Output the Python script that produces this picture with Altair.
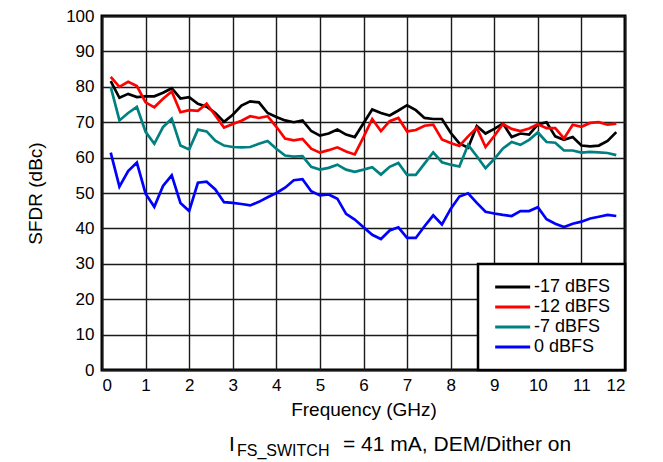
import altair as alt
import pandas as pd

freq = [0.2, 0.4, 0.6, 0.8, 1.0, 1.2, 1.4, 1.6, 1.8, 2.0, 2.2, 2.4, 2.6, 2.8, 3.0,
        3.2, 3.4, 3.6, 3.8, 4.0, 4.2, 4.4, 4.6, 4.8, 5.0, 5.2, 5.4, 5.6, 5.8, 6.0,
        6.2, 6.4, 6.6, 6.8, 7.0, 7.2, 7.4, 7.6, 7.8, 8.0, 8.2, 8.4, 8.6, 8.8, 9.0,
        9.2, 9.4, 9.6, 9.8, 10.0, 10.2, 10.4, 10.6, 10.8, 11.0, 11.2, 11.4, 11.6, 11.8]

sfdr_m17 = [81.6, 76.9, 78.0, 77.1, 77.3, 77.3, 78.3, 79.6, 76.7, 77.1, 75.2, 74.4, 72.6, 70.1, 72.1,
            74.7, 75.9, 75.6, 72.6, 71.5, 70.5, 70.0, 70.5, 67.5, 66.2, 66.8, 67.9, 66.5, 65.8, 69.7,
            73.6, 72.6, 71.9, 73.3, 74.8, 73.4, 71.2, 70.9, 70.9, 67.0, 64.0, 62.8, 68.9, 66.8, 68.1,
            69.6, 65.8, 66.8, 66.5, 69.4, 70.0, 66.0, 65.0, 65.8, 63.4, 63.2, 63.4, 64.7, 67.2]

sfdr_m12 = [82.8, 80.0, 81.4, 80.2, 75.6, 74.2, 76.6, 78.7, 72.8, 73.4, 73.2, 75.2, 71.9, 68.5, 69.5,
            70.4, 71.7, 71.2, 71.7, 68.7, 65.4, 64.9, 65.3, 62.5, 61.4, 62.1, 62.9, 61.7, 60.9, 65.8,
            70.9, 67.5, 70.3, 71.2, 67.4, 67.8, 69.0, 69.3, 65.1, 64.1, 63.3, 66.0, 68.4, 63.0, 66.1,
            69.5, 68.1, 67.5, 68.2, 69.4, 68.3, 68.3, 65.4, 69.3, 68.7, 69.8, 70.0, 69.3, 69.6]

sfdr_m7 = [80.0, 70.5, 72.6, 74.3, 67.3, 63.9, 68.6, 71.0, 63.4, 62.3, 67.9, 67.4, 64.8, 63.4, 63.0,
           62.9, 63.0, 63.9, 64.7, 62.5, 60.6, 60.3, 60.4, 57.4, 56.6, 57.1, 58.0, 56.6, 56.0, 56.6,
           57.3, 55.2, 57.4, 58.5, 55.1, 55.1, 58.3, 61.5, 58.7, 58.0, 57.5, 63.6, 60.4, 57.0, 59.6,
           62.6, 64.4, 63.6, 65.0, 67.1, 64.4, 64.2, 62.0, 62.0, 61.4, 61.6, 61.5, 61.3, 60.7]

sfdr_0 = [61.4, 51.8, 56.2, 58.6, 49.8, 46.1, 52.0, 55.0, 47.2, 44.9, 52.9, 53.2, 51.0, 47.4, 47.2,
          46.9, 46.5, 47.5, 48.8, 50.0, 51.5, 53.6, 53.9, 50.5, 49.3, 49.6, 48.4, 44.1, 42.5, 40.3,
          38.2, 37.0, 39.4, 40.3, 37.3, 37.3, 40.6, 43.7, 41.1, 45.5, 49.0, 49.9, 47.2, 44.7, 44.2,
          43.8, 43.5, 44.9, 44.9, 46.0, 42.6, 41.3, 40.4, 41.3, 41.9, 42.8, 43.3, 43.8, 43.5]

series_names = ["-17 dBFS", "-12 dBFS", "-7 dBFS", "0 dBFS"]
series_colors = ["#000000", "#FF0000", "#008080", "#0000FF"]
x_ticks = [0, 1, 2, 3, 4, 5, 6, 7, 8, 9, 10, 11, 12]
y_ticks = [0, 10, 20, 30, 40, 50, 60, 70, 80, 90, 100]

rows = []
for name, vals in zip(series_names, [sfdr_m17, sfdr_m12, sfdr_m7, sfdr_0]):
    for f, v in zip(freq, vals):
        rows.append({"freq": f, "sfdr": v, "series": name})
df = pd.DataFrame(rows)

FONT = "Liberation Sans"

lines = alt.Chart(df).mark_line(strokeWidth=2.7, clip=True).encode(
    x=alt.X("freq:Q", title="Frequency (GHz)",
            scale=alt.Scale(domain=[0, 12], nice=False, zero=False),
            axis=alt.Axis(values=x_ticks, format="d", labelPadding=7, titlePadding=7)),
    y=alt.Y("sfdr:Q", title="SFDR (dBc)",
            scale=alt.Scale(domain=[0, 100], nice=False),
            axis=alt.Axis(values=y_ticks, format="d", labelPadding=8, titlePadding=20)),
    color=alt.Color("series:N",
                    scale=alt.Scale(domain=series_names, range=series_colors),
                    legend=alt.Legend(title=None, orient="none", legendX=376, legendY=248,
                                      symbolType="M-1,0H5", symbolSize=136,
                                      symbolStrokeWidth=3, labelFontSize=18,
                                      labelFont=FONT, labelColor="black",
                                      labelOffset=24, rowPadding=2, padding=14,
                                      fillColor="white", strokeColor="black")),
    order=alt.Order("freq:Q"),
)

note_df = pd.DataFrame({"main": ["I"], "sub": ["FS_SWITCH"], "rest": ["= 41 mA, DEM/Dither on"]})
note_i = alt.Chart(note_df).mark_text(align="left", baseline="alphabetic", fontSize=21,
                                      font=FONT, color="black").encode(
    x=alt.value(127), y=alt.value(435), text="main:N")
note_sub = alt.Chart(note_df).mark_text(align="left", baseline="alphabetic", fontSize=16,
                                        font=FONT, color="black").encode(
    x=alt.value(135), y=alt.value(440), text="sub:N")
note_rest = alt.Chart(note_df).mark_text(align="left", baseline="alphabetic", fontSize=21,
                                         font=FONT, color="black").encode(
    x=alt.value(241), y=alt.value(435), text="rest:N")

chart = alt.layer(lines, note_i, note_sub, note_rest).properties(
    width=523, height=354,
    autosize=alt.AutoSizeParams(type="none"),
    padding={"left": 94, "top": 8, "right": 20, "bottom": 90},
    background="white",
).configure_view(
    stroke="black", strokeWidth=3
).configure_axis(
    grid=True, gridColor="#1a1a1a", gridWidth=1.4, domain=False, ticks=False,
    labelFont=FONT, labelFontSize=17, labelColor="black",
    titleFont=FONT, titleFontSize=19, titleFontWeight="normal", titleColor="black",
).configure_legend(
    strokeWidth=2.5
)

chart.save("out.html", embed_options={"renderer": "svg", "actions": False})
